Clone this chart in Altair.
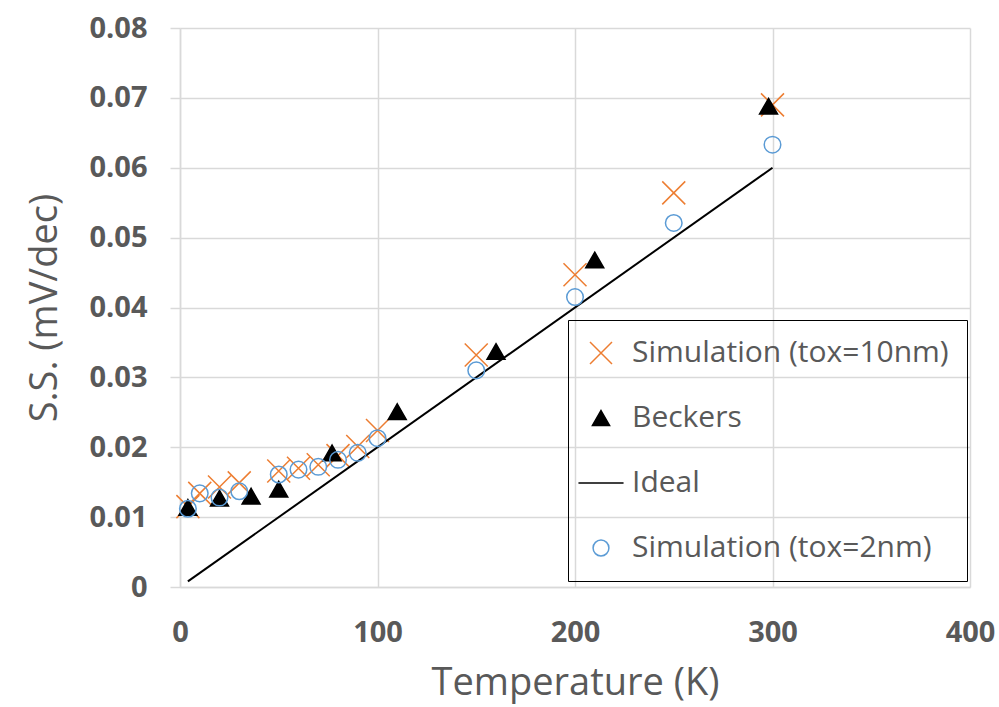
import altair as alt
import pandas as pd

# ---- data ----
series_names = ["Simulation (tox=10nm)", "Beckers", "Ideal", "Simulation (tox=2nm)"]

t_sim10 = [4, 10, 20, 30, 50, 60, 70, 80, 90, 100, 150, 200, 250, 300]
s_sim10 = [0.0115, 0.0134, 0.0143, 0.0149, 0.0166, 0.0170, 0.0175, 0.0188, 0.0201, 0.0224,
           0.0332, 0.0447, 0.0564, 0.0690]

t_beckers = [4, 20, 36, 50, 77, 110, 160, 210, 298]
s_beckers = [0.0114, 0.0127, 0.0130, 0.0140, 0.0192, 0.0251, 0.0337, 0.0468, 0.0688]

t_ideal = [4, 300]
s_ideal = [0.0008, 0.0600]

t_sim2 = [4, 10, 20, 30, 50, 60, 70, 80, 90, 100, 150, 200, 250, 300]
s_sim2 = [0.0112, 0.0134, 0.0128, 0.0137, 0.0161, 0.0168, 0.0172, 0.0182, 0.0192, 0.0213,
          0.0310, 0.0415, 0.0521, 0.0633]

x_ticks = [0, 100, 200, 300, 400]
y_ticks = [0, 0.01, 0.02, 0.03, 0.04, 0.05, 0.06, 0.07, 0.08]


def frame(ts, ss, name):
    return pd.DataFrame({"T": ts, "S": ss, "series": name})


df_x = frame(t_sim10, s_sim10, series_names[0])
df_tri = frame(t_beckers, s_beckers, series_names[1])
df_line = frame(t_ideal, s_ideal, series_names[2])
df_circ = frame(t_sim2, s_sim2, series_names[3])

GRAY = "#595959"
GRID = "#d9d9d9"
FONT = "Open Sans"

# symbol shapes (unit box [-1, 1])
X_PATH = "M-1,-1L1,1M-1,1L1,-1"
TRI_PATH = "M0,-0.68L0.78,0.68L-0.78,0.68Z"
LINE_PATH = "M-2.05,0L2.05,0"
CIRC_PATH = "M0.72,0A0.72,0.72 0 1,1 -0.72,0A0.72,0.72 0 1,1 0.72,0Z"

x_enc = alt.X("T:Q", scale=alt.Scale(domain=[0, 400], nice=False),
              axis=alt.Axis(values=x_ticks, title="Temperature (K)", ticks=False,
                            labelFlush=False, labelPadding=31, titlePadding=17))
y_enc = alt.Y("S:Q", scale=alt.Scale(domain=[0, 0.08], nice=False),
              axis=alt.Axis(values=y_ticks, title="S.S. (mV/dec)", tickSize=10,
                            labelPadding=23, titlePadding=24,
                            labelExpr="datum.value == 0 ? '0' : format(datum.value, '.2f')"))

legend = alt.Legend(title=None, orient="none", legendX=388, legendY=292,
                    strokeColor="black", padding=18, labelFont=FONT, labelFontSize=30,
                    labelColor=GRAY, labelOffset=16, labelLimit=0, rowPadding=35,
                    symbolSize=484, symbolStrokeWidth=1.5)

stroke_enc = alt.Stroke("series:N", scale=alt.Scale(domain=series_names,
                        range=["#ED7D31", "black", "black", "#5B9BD5"]), legend=legend)
fill_enc = alt.Fill("series:N", scale=alt.Scale(domain=series_names,
                    range=["transparent", "black", "transparent", "transparent"]), legend=legend)
shape_enc = alt.Shape("series:N", scale=alt.Scale(domain=series_names,
                      range=[X_PATH, TRI_PATH, LINE_PATH, CIRC_PATH]), legend=legend)

points_a = alt.Chart(pd.concat([df_x, df_tri])).mark_point(
    opacity=1, strokeWidth=1.5, size=529).encode(
    x=x_enc, y=y_enc, stroke=stroke_enc, fill=fill_enc, shape=shape_enc)

line = alt.Chart(df_line).mark_line(strokeWidth=2).encode(
    x=x_enc, y=y_enc, stroke=stroke_enc)

points_b = alt.Chart(df_circ).mark_point(opacity=1, strokeWidth=1.5, size=529).encode(
    x=x_enc, y=y_enc, stroke=stroke_enc, fill=fill_enc, shape=shape_enc)

chart = alt.layer(points_a, line, points_b).properties(
    width=790, height=559,
    autosize=alt.AutoSizeParams(type="none"),
    padding={"left": 180, "top": 28, "right": 29, "bottom": 120},
    background="white",
).configure_view(stroke=None).configure_axis(
    grid=True, gridColor=GRID, gridWidth=1.5, domainColor=GRID, domainWidth=1.5,
    tickColor=GRID, tickWidth=1.5,
    labelFont=FONT, labelFontSize=29, labelFontWeight="bold", labelColor=GRAY,
    titleFont=FONT, titleFontSize=38, titleFontWeight="normal", titleColor=GRAY,
)

chart.save("out.html", embed_options={"renderer": "svg", "actions": False})
